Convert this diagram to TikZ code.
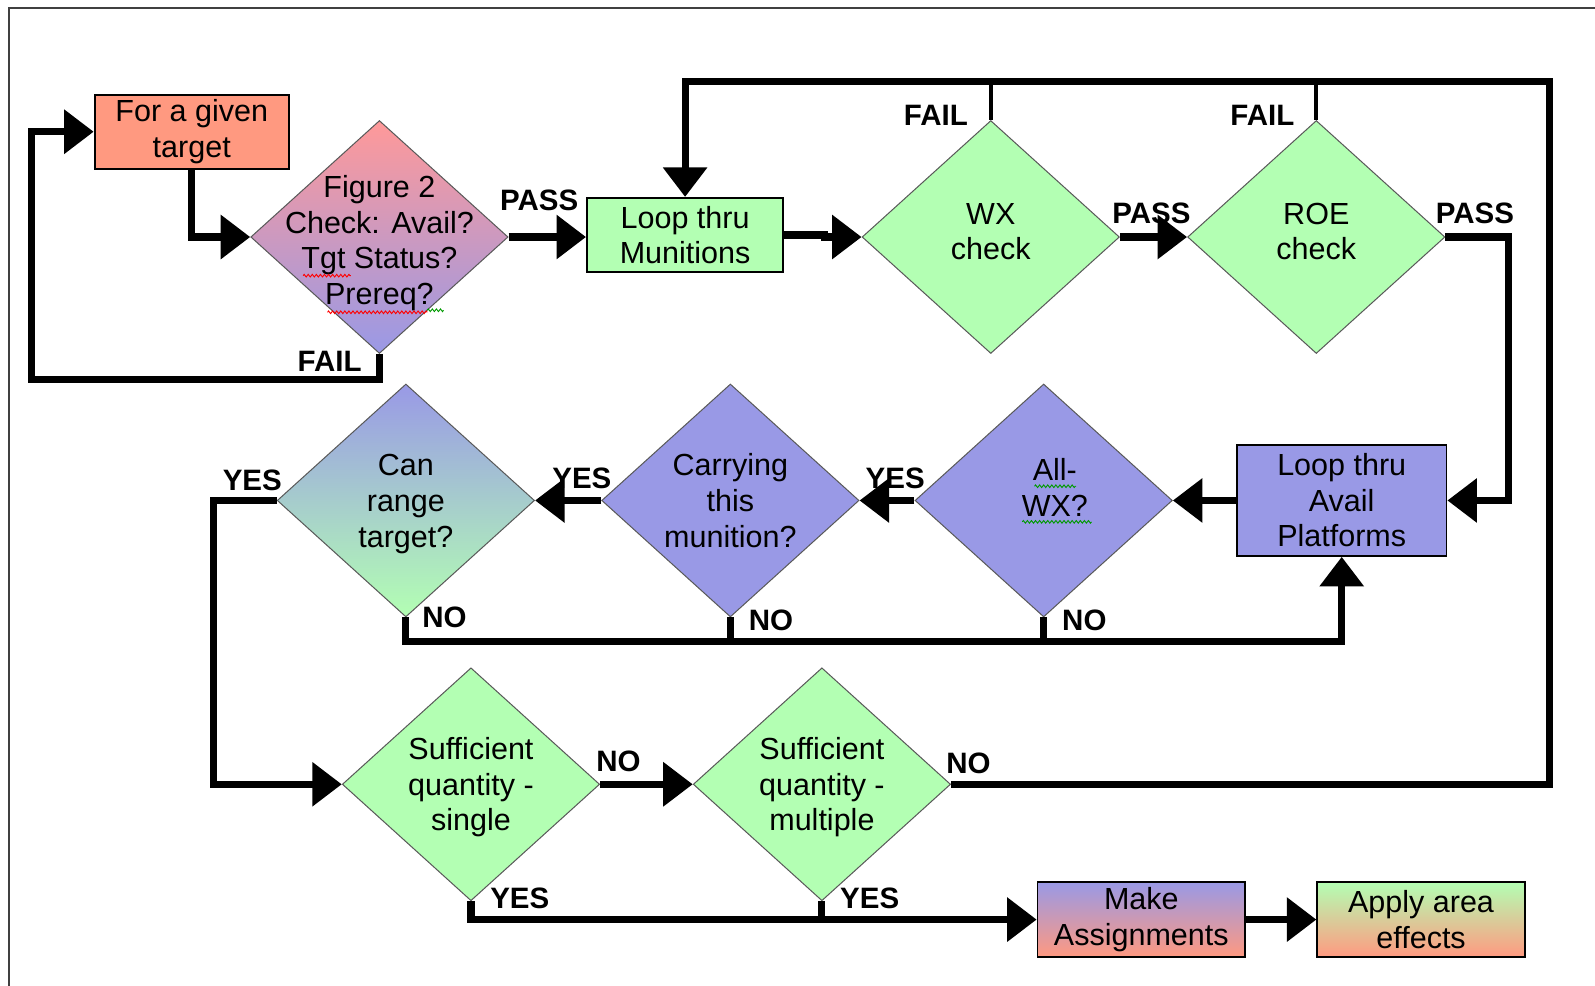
\documentclass[tikz,border=0pt]{standalone}
\usepackage{fontspec}
\setmainfont{Liberation Sans}
\usetikzlibrary{shapes.geometric,arrows.meta,decorations.pathmorphing}
\definecolor{salmon}{HTML}{FF9980}
\definecolor{pgreen}{HTML}{B3FFB3}
\definecolor{pblue}{HTML}{9999E6}
\definecolor{ppink}{HTML}{FF9999}
\newcommand\dtxt[3][0pt]{\makebox[0pt]{\hspace*{#1}\smash{\raisebox{#2}{\begin{tabular}{@{}c@{}}#3\end{tabular}}}}}
\begin{document}
\begin{tikzpicture}[x=1pt,y=-1pt,
  txt/.style={font=\fontsize{30}{35}\selectfont},
  box/.style={txt,draw=black,line width=1.8pt,align=center,inner sep=0pt},
  dia/.style={txt,shape=diamond,draw=black!65,line width=1pt,minimum width=253pt,minimum height=229pt,inner sep=0pt},
  lab/.style={font=\bfseries\fontsize{29}{32}\selectfont,inner sep=0pt},
  conn/.style={line width=7pt,-{Triangle[length=29pt,width=42pt]}},
  wire/.style={line width=7pt},
  stub/.style={line width=4pt},
  squig/.style={decorate,decoration={zigzag,segment length=4pt,amplitude=1.3pt},line width=0.9pt}
]
\useasboundingbox (0,0) rectangle (1568,969);
\draw[line width=2pt,black!75] (9,969) -- (9,8) -- (1568,8);

% nodes
\node[box,fill=salmon,minimum width=191pt,minimum height=73pt] (tgt) at (188.5,129.5) {For a given\\target};
\node[dia,top color=ppink,bottom color=pblue] (fig) at (373,233) {\dtxt{-13pt}{Figure 2\\Check: Avail?\\Tgt Status?\\Prereq?}};
\node[box,fill=pgreen,minimum width=193pt,minimum height=73pt] (mun) at (673.5,231) {Loop thru\\Munitions};
\node[dia,fill=pgreen] (wx) at (974,233) {\dtxt{-4pt}{WX\\check}};
\node[dia,fill=pgreen] (roe) at (1294,233) {\dtxt{-4pt}{ROE\\check}};
\node[box,fill=pblue,minimum width=206pt,minimum height=109pt] (plat) at (1319,492) {Loop thru\\Avail\\Platforms};
\node[dia,fill=pblue] (allwx) at (1026,492) {\dtxt[22pt]{3pt}{All-\\WX?}};
\node[dia,fill=pblue] (carry) at (718,492) {\dtxt{-10pt}{Carrying\\this\\munition?}};
\node[dia,top color=pblue,bottom color=pgreen] (range) at (399,492) {\dtxt{-10pt}{Can\\range\\target?}};
\node[dia,fill=pgreen] (single) at (463,771) {\dtxt{-10pt}{Sufficient\\quantity -\\single}};
\node[dia,fill=pgreen] (multi) at (808,771) {\dtxt{-10pt}{Sufficient\\quantity -\\multiple}};
\node[box,top color=pblue,bottom color=salmon,minimum width=204pt,minimum height=74pt] (assign) at (1122,904) {Make\\Assignments};
\node[box,top color=pgreen,bottom color=salmon,minimum width=204pt,minimum height=74pt] (area) at (1397,904) {Apply area\\effects};

% helper coordinates
\coordinate (fl) at (31,373);
\coordinate (rp) at (1483,233);
\coordinate (yl) at (210,492);
\coordinate (tr) at (1523,80);
\coordinate (nb) at (399,631);

% connectors
\draw[conn] (fig.south) |- (fl) |- (tgt.west);
\draw[conn] (tgt.south) |- (fig.west);
\draw[conn] (fig.east) -- (fig.east -| mun.west);
\draw[conn] (mun.east) -- ++(40,0) |- (wx.west);
\draw[conn] (wx.east) -- (roe.west);
\draw[conn] (roe.east) -- (rp) |- (plat.east);
\draw[conn] (plat.west) -- (allwx.east);
\draw[conn] (allwx.west) -- (carry.east);
\draw[conn] (carry.west) -- (range.east);
\draw[conn] (range.west) -- (yl) |- (single.west);
\draw[conn] (single.east) -- (multi.west);
\draw[conn] (multi.east) -| (tr) -| (mun.north);
\draw[stub] (wx.north) -- (wx.north |- tr);
\draw[stub] (roe.north) -- (roe.north |- tr);
\draw[wire] (carry.south) -- (carry.south |- nb);
\draw[wire] (allwx.south) -- (allwx.south |- nb);
\draw[conn] (range.south) |- (nb) -| (plat.south);
\draw[wire] (multi.south) -- (multi.south |- assign.west);
\draw[conn] (single.south) |- (assign.west);
\draw[conn] (assign.east) -- (area.west);

% labels
\node[lab] (p1) at (530,197) {PASS};
\node[lab] (f1) at (324,355) {FAIL};
\node[lab] (f2) at (920,113) {FAIL};
\node[lab] (f3) at (1241,113) {FAIL};
\node[lab] (p2) at (1132,210) {PASS};
\node[lab] (p3) at (1450,210) {PASS};
\node[lab] (y1) at (880,470) {YES};
\node[lab] (y2) at (572,470) {YES};
\node[lab] (y3) at (248,472) {YES};
\node[lab] (n1) at (437,607) {NO};
\node[lab] (n2) at (758,610) {NO};
\node[lab] (n3) at (1066,610) {NO};
\node[lab] (n4) at (608,748) {NO};
\node[lab] (n5) at (952,750) {NO};
\node[lab] (y4) at (511,883) {YES};
\node[lab] (y5) at (855,883) {YES};

% spell-check marks
\draw[squig,red] (298,271) -- (345,271);
\draw[squig,red] (322,307) -- (420,307);
\draw[squig,green!60!black] (420,305) -- (436,305);
\draw[squig,green!60!black] (1017,478) -- (1058,478);
\draw[squig,green!60!black] (1005,513) -- (1073,513);
\end{tikzpicture}
\end{document}
